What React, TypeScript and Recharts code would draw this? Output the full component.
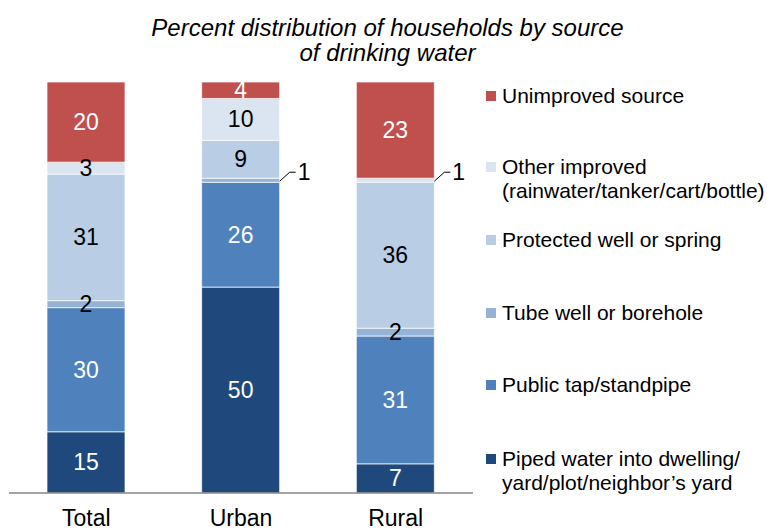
import React from 'react';
import { BarChart, Bar, XAxis, YAxis, LabelList } from 'recharts';

const categories = ['Total', 'Urban', 'Rural'];
const piped = [14.9, 50.1, 7.1];
const publicTap = [30.2, 25.5, 31.1];
const tubeWell = [1.7, 1.0, 1.9];
const protectedWell = [30.8, 9.2, 35.5];
const otherImproved = [2.9, 10.2, 1.0];
const unimproved = [19.5, 4.0, 23.4];

const seriesNames = [
  'Piped water into dwelling/\nyard/plot/neighbor\u2019s yard',
  'Public tap/standpipe',
  'Tube well or borehole',
  'Protected well or spring',
  'Other improved\n(rainwater/tanker/cart/bottle)',
  'Unimproved source',
];

const FONT = '"Liberation Sans", Arial, sans-serif';

const series = [
  { key: 'piped', values: piped, color: '#1F497D', text: '#ffffff' },
  { key: 'publicTap', values: publicTap, color: '#4F81BD', text: '#ffffff' },
  { key: 'tubeWell', values: tubeWell, color: '#95B3D7', text: '#000000' },
  { key: 'protectedWell', values: protectedWell, color: '#B9CDE5', text: '#000000' },
  { key: 'otherImproved', values: otherImproved, color: '#DBE5F1', text: '#000000' },
  { key: 'unimproved', values: unimproved, color: '#C0504D', text: '#ffffff' },
];

const data = categories.map((name, i) => {
  const row: Record<string, any> = { name };
  series.forEach((s) => {
    row[s.key] = s.values[i];
  });
  return row;
});

const makeLabel = (color: string) => (props: any) => {
  const x = Number(props.x);
  const y = Number(props.y);
  const width = Number(props.width);
  const height = Number(props.height);
  const v = Math.round(Number(props.value));
  if (v <= 1) {
    const x0 = x + width;
    const y0 = y + height / 2 + 1;
    return (
      <g>
        <polyline
          points={`${x0},${y0} ${x0 + 10},${y0 - 9} ${x0 + 16},${y0 - 9}`}
          fill="none"
          stroke="#000"
          strokeWidth={1}
        />
        <text
          x={x0 + 18}
          y={y0 - 9}
          fill="#000"
          fontSize={23}
          fontFamily={FONT}
          textAnchor="start"
          dominantBaseline="central"
        >
          {v}
        </text>
      </g>
    );
  }
  return (
    <text
      x={x + width / 2}
      y={y + height / 2}
      fill={color}
      fontSize={23}
      fontFamily={FONT}
      textAnchor="middle"
      dominantBaseline="central"
    >
      {v}
    </text>
  );
};

const legendTops = [459, 385, 313, 240, 167, 96];

export default function App() {
  return (
    <div style={{ position: 'absolute', left: 0, top: 0, width: 767, height: 531, background: '#fff', fontFamily: FONT }}>
      <div
        style={{
          position: 'absolute',
          left: 0,
          width: 775,
          top: 15,
          textAlign: 'center',
          fontStyle: 'italic',
          fontSize: 24,
          lineHeight: '25px',
          color: '#000',
        }}
      >
        Percent distribution of households by source
        <br />
        of drinking water
      </div>
      <BarChart
        width={767}
        height={531}
        data={data}
        margin={{ top: 82, right: 294, bottom: 0, left: 9 }}
        barSize={78}
      >
        <XAxis
          dataKey="name"
          height={38}
          axisLine={{ stroke: '#868686', strokeWidth: 1.5 }}
          tickLine={false}
          tickSize={0}
          tickMargin={17}
          tick={{ fontSize: 23, fill: '#000', fontFamily: FONT }}
        />
        <YAxis hide domain={[0, 100]} />
        {series.map((s, i) => (
          <Bar
            key={s.key}
            dataKey={s.key}
            name={seriesNames[i]}
            stackId="a"
            fill={s.color}
            stroke="#ffffff"
            strokeOpacity={0.7}
            strokeWidth={1}
            isAnimationActive={false}
          >
            <LabelList dataKey={s.key} content={makeLabel(s.text)} />
          </Bar>
        ))}
      </BarChart>
      {series.map((s, i) => {
        const lines = seriesNames[i].split('\n');
        return (
          <div
            key={s.key}
            style={{
              position: 'absolute',
              left: 486,
              top: legendTops[i] - 12,
              display: 'flex',
              alignItems: 'flex-start',
              fontSize: 21,
              lineHeight: '24px',
              color: '#000',
              whiteSpace: 'nowrap',
            }}
          >
            <div style={{ width: 10, height: 10, background: s.color, marginTop: 7, marginRight: 6 }} />
            <div>
              {lines.map((l, j) => (
                <div key={j}>{l}</div>
              ))}
            </div>
          </div>
        );
      })}
    </div>
  );
}
